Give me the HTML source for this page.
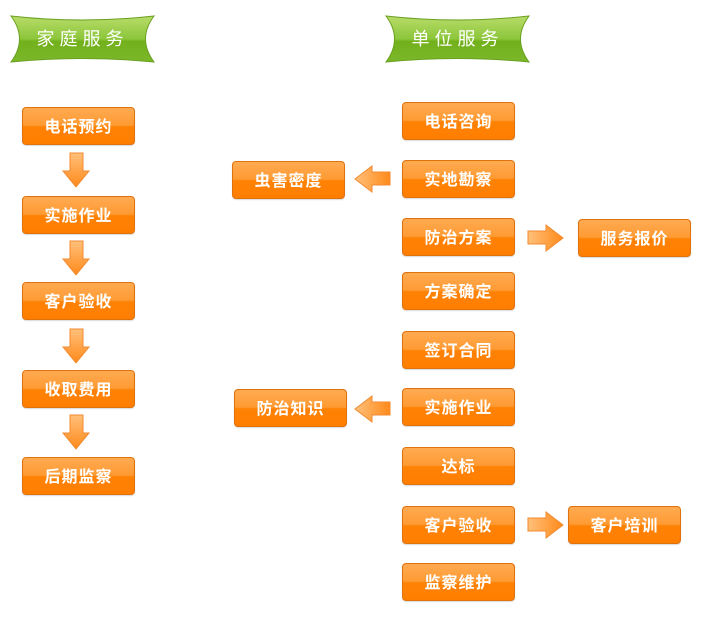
<!DOCTYPE html><html><head><meta charset="utf-8"><style>
body{margin:0;width:707px;height:617px;background:#fff;position:relative;overflow:hidden;font-family:"Liberation Sans","Noto Sans CJK SC",sans-serif}
.b{position:absolute;width:111px;height:36px;border:1px solid #e0720e;border-radius:4px;background:linear-gradient(#ffab52 0%,#ff9a33 48%,#ff8205 52%,#ff7e00 100%);color:#fff;font-size:16px;line-height:39px;text-align:center;letter-spacing:1px;font-weight:bold;box-shadow:0 1px 1px rgba(0,0,0,.15)}
svg{position:absolute}
.t{position:absolute;color:#fff;font-size:18px;letter-spacing:5px;text-align:center;width:143px;line-height:46px}
</style></head><body>
<svg width="707" height="617" style="left:0;top:0">
<defs><linearGradient id="g" x1="0" y1="0" x2="0" y2="1"><stop offset="0" stop-color="#b8dc6a"/><stop offset=".5" stop-color="#8cc63a"/><stop offset=".55" stop-color="#72b01c"/><stop offset="1" stop-color="#7ab82a"/></linearGradient>
<linearGradient id="o" x1="0" y1="0" x2="0" y2="1"><stop offset="0" stop-color="#ffc07a"/><stop offset="1" stop-color="#ff8a1a"/></linearGradient>
<linearGradient id="oh" x1="0" y1="0" x2="1" y2="0"><stop offset="0" stop-color="#ffc07a"/><stop offset="1" stop-color="#ff8a1a"/></linearGradient></defs>
<path d="M11 16 Q82 24 154 16 Q137 39 154 62 Q82 55 11 62 Q28 39 11 16Z" fill="url(#g)" stroke="#6aa020"/>
<path d="M386 16 Q457 24 529 16 Q512 39 529 62 Q457 55 386 62 Q403 39 386 16Z" fill="url(#g)" stroke="#6aa020"/>
<g fill="url(#o)" stroke="#f08a30" stroke-width="1">
<path d="M70 153h13v18h6l-13 16-13-16h7z"/>
<path d="M70 241h13v18h6l-13 16-13-16h7z"/>
<path d="M70 329h13v18h6l-13 16-13-16h7z"/>
<path d="M70 415h13v18h6l-13 16-13-16h7z"/>
</g>
<g fill="url(#oh)" stroke="#f08a30">
<path d="M390 172v13h-18v7l-17-13 17-13v6z"/>
<path d="M390 402v13h-18v7l-17-13 17-13v6z"/>
<path d="M528 231v13h18v7l17-13-17-13v6z"/>
<path d="M528 518v13h18v7l17-13-17-13v6z"/>
</g></svg>
<div class="t" style="left:11px;top:16px">家庭服务</div>
<div class="t" style="left:386px;top:16px">单位服务</div>
<div class="b" style="left:22px;top:107px">电话预约</div>
<div class="b" style="left:22px;top:196px">实施作业</div>
<div class="b" style="left:22px;top:282px">客户验收</div>
<div class="b" style="left:22px;top:370px">收取费用</div>
<div class="b" style="left:22px;top:457px">后期监察</div>
<div class="b" style="left:232px;top:161px">虫害密度</div>
<div class="b" style="left:234px;top:389px">防治知识</div>
<div class="b" style="left:402px;top:102px">电话咨询</div>
<div class="b" style="left:402px;top:160px">实地勘察</div>
<div class="b" style="left:402px;top:218px">防治方案</div>
<div class="b" style="left:402px;top:272px">方案确定</div>
<div class="b" style="left:402px;top:331px">签订合同</div>
<div class="b" style="left:402px;top:388px">实施作业</div>
<div class="b" style="left:402px;top:447px">达标</div>
<div class="b" style="left:402px;top:506px">客户验收</div>
<div class="b" style="left:402px;top:563px">监察维护</div>
<div class="b" style="left:578px;top:219px">服务报价</div>
<div class="b" style="left:568px;top:506px">客户培训</div>
</body></html>
